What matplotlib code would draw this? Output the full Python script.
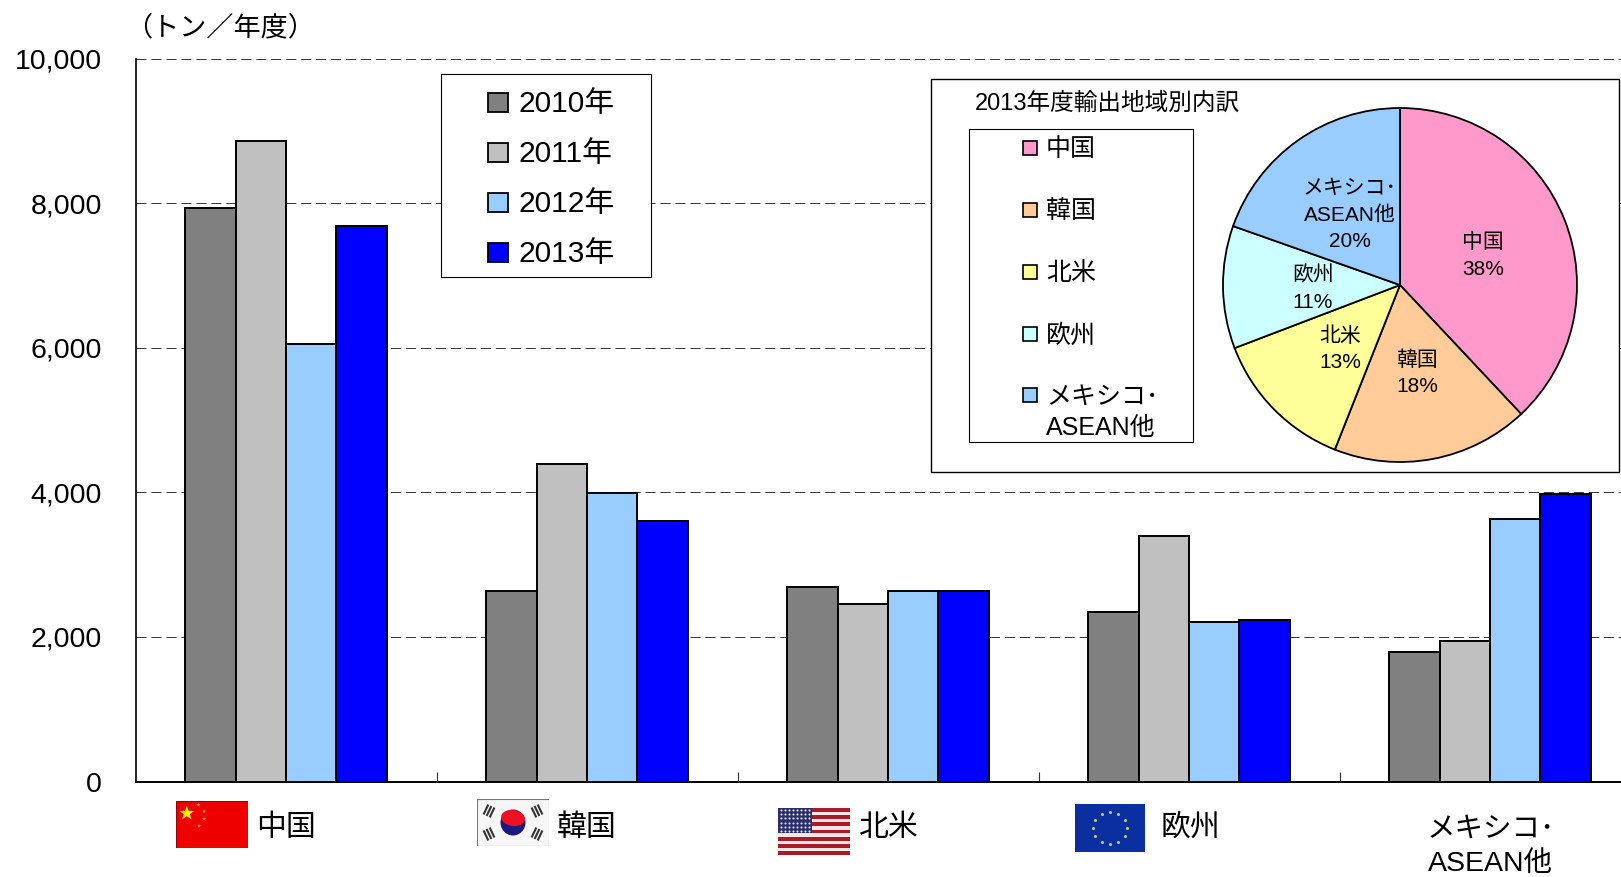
import numpy as np
import matplotlib
matplotlib.use("Agg")
import matplotlib.pyplot as plt
from matplotlib.patches import Rectangle, Polygon, Ellipse

plt.rcParams['font.family'] = ['Liberation Sans', 'Noto Sans CJK JP', 'DejaVu Sans']

W, H = 1621, 877

categories = ['中国', '韓国', '北米', '欧州', 'メキシコ･\nASEAN他']
years = ['2010年', '2011年', '2012年', '2013年']
year_colors = ['#808080', '#C0C0C0', '#99CCFF', '#0000FF']
v2010 = [7930, 2630, 2690, 2350, 1790]
v2011 = [8860, 4385, 2460, 3400, 1950]
v2012 = [6050, 3990, 2630, 2210, 3630]
v2013 = [7680, 3600, 2630, 2230, 3980]
yticks = [0, 2000, 4000, 6000, 8000, 10000]

pie_labels = ['中国', '韓国', '北米', '欧州', 'メキシコ･\nASEAN他']
pie_values = [38, 18, 13.2, 11.2, 19.6]
pie_colors = ['#FF99CC', '#FFCC99', '#FFFF99', '#CCFFFF', '#99CCFF']


def rect(x0, y0, x1, y1):
    return [x0 / W, 1 - y1 / H, (x1 - x0) / W, (y1 - y0) / H]


def overlay(z):
    o = fig.add_axes([0, 0, 1, 1], zorder=z)
    o.set_xlim(0, W)
    o.set_ylim(H, 0)
    o.axis('off')
    return o


fig = plt.figure(figsize=(W / 100, H / 100), dpi=100, facecolor='white')

# main bar chart
band = 301.0
ax = fig.add_axes(rect(135.5, 58.5, 1621, 781.5))
ax.set_xlim(0, (1621 - 135.5) / band)
ax.set_ylim(0, 10000)
bw = 0.1674
for i, (vals, c) in enumerate(zip([v2010, v2011, v2012, v2013], year_colors)):
    x = np.arange(len(vals)) + 0.5 + (i - 1.5) * bw
    ax.bar(x, vals, bw, color=c, edgecolor='black', linewidth=1.4, zorder=3)
ax.set_yticks(yticks)
ax.set_yticklabels([f'{v:,}' for v in yticks], fontsize=20.5)
ax.set_xticks(np.arange(1, 5))
ax.set_xticklabels([])
ax.tick_params(axis='y', length=0, pad=24)
ax.tick_params(axis='x', length=7.2, width=0.8, direction='in', color='#333333')
ax.grid(axis='y', color='#333333', linestyle=(0, (10.3, 5.1)), linewidth=0.7, zorder=0)
ax.set_axisbelow(True)
for s in ['top', 'right']:
    ax.spines[s].set_visible(False)
ax.spines['left'].set_linewidth(1.2)
ax.spines['bottom'].set_linewidth(1.4)

# layer below the pie
ov = overlay(5)
ov.text(125, 28.5, '（トン／年度）', fontsize=19.5, ha='left', va='center')

# category labels
cat_x = [286, 587, 889, 1190]
for x, lab in zip(cat_x, categories[:4]):
    ov.text(x, 828, lab, fontsize=21.5, ha='center', va='center')
ov.text(1491, 847, categories[4], fontsize=20.5, ha='center', va='center', linespacing=1.42)

# year legend
ov.add_patch(Rectangle((440.5, 74), 210, 203, fc='white', ec='black', lw=0.8, zorder=2))
for yy, lab, c in zip([102, 152, 202.5, 252.5], years, year_colors):
    ov.add_patch(Rectangle((488, yy - 9.5), 20, 19, fc=c, ec='black', lw=1.3, zorder=3))
    ov.text(518, yy + 1.5, lab, fontsize=21.5, ha='left', va='center', zorder=3)

# pie panel
ov.add_patch(Rectangle((931, 78.5), 688, 393, fc='white', ec='black', lw=1.0, zorder=2))
ov.text(975, 103, '2013年度輸出地域別内訳', fontsize=17, ha='left', va='center', zorder=3)
ov.add_patch(Rectangle((969, 128.5), 224, 313, fc='white', ec='black', lw=0.8, zorder=3))
for yy, lab, c in zip([148, 210, 272, 334, 395], pie_labels, pie_colors):
    ov.add_patch(Rectangle((1023, yy - 7), 14, 14, fc=c, ec='black', lw=1.2, zorder=4))
    if '\n' in lab:
        ov.text(1046, yy + 17, lab, fontsize=18, ha='left', va='center', linespacing=1.38, zorder=4)
    else:
        ov.text(1046, yy + 1.5, lab, fontsize=18, ha='left', va='center', zorder=4)

# pie
axp = fig.add_axes(rect(1220, 105, 1580, 465), zorder=6)
axp.patch.set_alpha(0)
axp.pie(pie_values, colors=pie_colors, startangle=90, counterclock=False, radius=1,
        wedgeprops=dict(edgecolor='black', linewidth=1.3))
axp.set_xlim(-180 / 177, 180 / 177)
axp.set_ylim(-180 / 177, 180 / 177)

# layer above the pie
ov2 = overlay(7)
pie_text = [(1483, 256, '中国\n38%'), (1417, 373, '韓国\n18%'), (1340, 349, '北米\n13%'),
            (1313, 289, '欧州\n11%'), (1350, 215, 'メキシコ･\nASEAN他\n20%')]
for x, y, s in pie_text:
    ov2.text(x, y, s, fontsize=15, ha='center', va='center', linespacing=1.48, zorder=8)


def flag_ax(x0, y0, x1, y1):
    a = fig.add_axes(rect(x0, y0, x1, y1), zorder=8)
    a.set_xlim(0, 1)
    a.set_ylim(0, 1)
    a.axis('off')
    return a


def star(a, cx, cy, r, color):
    ang = np.pi / 2 + np.arange(10) * np.pi / 5
    rr = np.where(np.arange(10) % 2 == 0, r, r * 0.4)
    a.add_patch(Polygon(np.c_[cx + rr * np.cos(ang), cy + rr * np.sin(ang) * 1.45], fc=color, ec='none'))


# China
a = flag_ax(176, 801, 248, 848)
a.add_patch(Rectangle((0, 0), 1, 1, fc='#EE0000', ec='#A00000', lw=0.8))
star(a, 0.15, 0.74, 0.11, '#FFEE00')
for px, py in [(0.31, 0.92), (0.39, 0.78), (0.39, 0.62), (0.32, 0.47)]:
    star(a, px, py, 0.03, '#FFB000')

# Korea
fw, fh = 72, 47
a = flag_ax(477, 799, 477 + fw, 799 + fh)
a.set_xlim(0, fw)
a.set_ylim(0, fh)
a.add_patch(Rectangle((0, 0), fw, fh, fc='#F6F6F6', ec='#777777', lw=0.8))
a.add_patch(Ellipse((36, 23.5), 25, 26, fc='#1A1A80', ec='none'))
a.add_patch(Ellipse((36, 28), 24, 16, angle=-8, fc='#EE1122', ec='none'))
for cx, cy in [(12, 35), (60, 35), (12, 12), (60, 12)]:
    d = np.array([cx - 36, cy - 23.5], float)
    d /= np.hypot(*d)
    p = np.array([-d[1], d[0]])
    for k in (-1, 0, 1):
        c0 = np.array([cx, cy]) + d * k * 3.4
        s0, s1 = c0 - p * 5.5, c0 + p * 5.5
        a.plot([s0[0], s1[0]], [s0[1], s1[1]], color='#333333', lw=1.5, solid_capstyle='butt')

# USA
a = flag_ax(778, 808, 850, 855)
for k in range(13):
    a.add_patch(Rectangle((0, k / 13), 1, 1 / 13, fc='#A81C28' if k % 2 == 0 else '#F6E6E6', ec='none'))
a.add_patch(Rectangle((0, 6 / 13), 0.47, 7 / 13, fc='#2A2F6A', ec='none'))
gx, gy = np.meshgrid(np.linspace(0.04, 0.43, 8), np.linspace(0.51, 0.96, 6))
a.scatter(gx.ravel(), gy.ravel(), s=2.2, c='#E8E8F0', linewidths=0)

# EU
a = flag_ax(1075, 804, 1145, 852)
a.add_patch(Rectangle((0, 0), 1, 1, fc='#0A2FA0', ec='none'))
th = np.arange(12) * np.pi / 6
a.scatter(0.5 + 0.24 * np.cos(th), 0.5 + 0.33 * np.sin(th), s=5, c='#C8C860', linewidths=0)

fig.savefig('out.png', dpi=100)
